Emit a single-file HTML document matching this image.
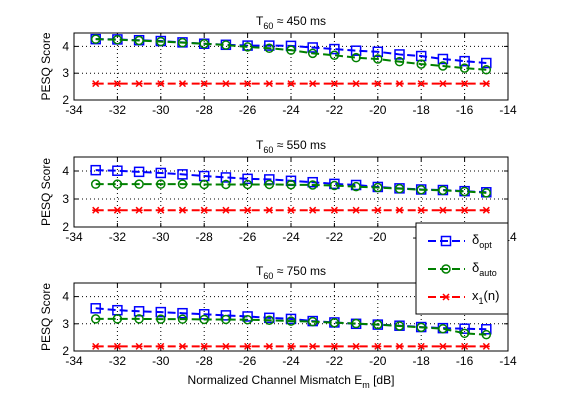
<!DOCTYPE html>
<html><head><meta charset="utf-8"><style>
body{margin:0;background:#fff}
svg{display:block;font-family:"Liberation Sans",sans-serif}
</style></head><body>
<svg id="c" width="561" height="420" viewBox="0 0 561 420"></svg>
<script>
const xs=[-33,-32,-31,-30,-29,-28,-27,-26,-25,-24,-23,-22,-21,-20,-19,-18,-17,-16,-15];
const xTicks=[-34,-32,-30,-28,-26,-24,-22,-20,-18,-16,-14];
const yTicks=[2,3,4];
const titles=["450","550","750"];
const opt450=[4.27,4.26,4.23,4.2,4.15,4.1,4.06,4.03,4.03,4.02,3.96,3.9,3.84,3.8,3.7,3.64,3.53,3.45,3.38];
const auto450=[4.27,4.25,4.22,4.18,4.14,4.1,4.05,3.98,3.93,3.86,3.74,3.67,3.58,3.53,3.43,3.34,3.27,3.19,3.13];
const x1_450=[2.61,2.61,2.61,2.61,2.61,2.61,2.61,2.61,2.61,2.61,2.61,2.61,2.61,2.61,2.61,2.61,2.61,2.61,2.61];
const opt550=[4.03,4.01,3.97,3.93,3.88,3.82,3.77,3.72,3.7,3.65,3.6,3.54,3.5,3.43,3.38,3.34,3.32,3.28,3.24];
const auto550=[3.53,3.53,3.53,3.53,3.53,3.52,3.52,3.52,3.52,3.51,3.5,3.48,3.44,3.41,3.37,3.33,3.31,3.27,3.22];
const x1_550=[2.6,2.6,2.6,2.6,2.6,2.6,2.6,2.6,2.6,2.6,2.6,2.6,2.6,2.6,2.6,2.6,2.6,2.6,2.6];
const opt750=[3.57,3.5,3.46,3.43,3.39,3.35,3.31,3.27,3.22,3.18,3.1,3.05,3.0,2.97,2.93,2.88,2.84,2.82,2.8];
const auto750=[3.18,3.18,3.18,3.17,3.17,3.16,3.16,3.15,3.13,3.1,3.08,3.04,3.01,2.97,2.92,2.87,2.82,2.65,2.6];
const x1_750=[2.17,2.17,2.17,2.17,2.17,2.17,2.17,2.17,2.17,2.17,2.17,2.17,2.17,2.17,2.17,2.17,2.17,2.17,2.17];

const NS="http://www.w3.org/2000/svg";
const svg=document.getElementById('c');
function el(t,a,p){const e=document.createElementNS(NS,t);for(const k in a)e.setAttribute(k,a[k]);(p||svg).appendChild(e);return e;}
const L=74,R=508;
const panels=[{top:33,bot:100,d:[opt450,auto450,x1_450]},{top:157,bot:227,d:[opt550,auto550,x1_550]},{top:283,bot:351,d:[opt750,auto750,x1_750]}];
const cols=['#0000ff','#008000','#ff0000'];
const sNames=['delta-opt','delta-auto','x1n'];
function xPos(v){return L+(v+34)/20*(R-L);}
panels.forEach((p,pi)=>{
  const g=el('g',{});
  
  
  const yPos=v=>p.bot-(v-2)/2.5*(p.bot-p.top);
  const ax=el('rect',{x:L,y:p.top,width:R-L,height:p.bot-p.top,fill:'#fff',stroke:'#000','stroke-width':1},g);
  
  
  xTicks.forEach(t=>{
    const x=xPos(t);
    if(t>-34&&t<-14) el('line',{x1:x,x2:x,y1:p.top,y2:p.bot,stroke:'#000','stroke-dasharray':'1,3','stroke-width':1},g);
    el('line',{x1:x,x2:x,y1:p.bot,y2:p.bot-4,stroke:'#000'},g);
    el('line',{x1:x,x2:x,y1:p.top,y2:p.top+4,stroke:'#000'},g);
    const tx=el('text',{x:x,y:p.bot+14,'font-size':12,'text-anchor':'middle'},g);tx.textContent=t;
    
    
  });
  yTicks.forEach(t=>{
    const y=yPos(t);
    if(t>2) el('line',{x1:L,x2:R,y1:y,y2:y,stroke:'#000','stroke-dasharray':'1,3'},g);
    el('line',{x1:L,x2:L+4,y1:y,y2:y,stroke:'#000'},g);
    el('line',{x1:R,x2:R-4,y1:y,y2:y,stroke:'#000'},g);
    const tx=el('text',{x:L-5,y:y+4,'font-size':12,'text-anchor':'end'},g);tx.textContent=t;
    
    
  });
  const yl=el('text',{transform:`translate(50,${(p.top+p.bot)/2}) rotate(-90)`,'font-size':12,'text-anchor':'middle'},g);
  yl.textContent='PESQ Score';
  
  
  const ti=el('text',{x:(L+R)/2,y:p.top-8,'font-size':12,'text-anchor':'middle'},g);
  ti.innerHTML=`T<tspan font-size="9" dy="4">60</tspan><tspan dy="-4"> ≈ ${titles[pi]} ms</tspan>`;
  
  
  p.d.forEach((arr,si)=>{
    const c=cols[si];
    const pts=arr.map((v,i)=>xPos(xs[i])+','+yPos(v)).join(' ');
    const ln=el('polyline',{points:pts,fill:'none',stroke:c,'stroke-width':2,'stroke-dasharray':'8,4'},g);
    
    
    arr.forEach((v,i)=>{
      const x=xPos(xs[i]),y=yPos(v);let m;
      if(si===0) m=el('rect',{x:x-4.5,y:y-4.5,width:9,height:9,fill:'none',stroke:c,'stroke-width':1.5},g);
      else if(si===1) m=el('circle',{cx:x,cy:y,r:4,fill:'none',stroke:c,'stroke-width':1.5},g);
      else m=el('path',{d:`M${x-3},${y-3}L${x+3},${y+3}M${x-3},${y+3}L${x+3},${y-3}M${x-3.5},${y}L${x+3.5},${y}`,stroke:c,'stroke-width':1.5},g);
      
      
    });
  });
});
const xl=el('text',{x:(L+R)/2,y:384,'font-size':12,'text-anchor':'middle'});
xl.innerHTML='Normalized Channel Mismatch E<tspan font-size="9" dy="4">m</tspan><tspan dy="-4"> [dB]</tspan>';


// legend
const lg=el('g',{});


el('rect',{x:416,y:223,width:92,height:91,fill:'#fff',stroke:'#000'},lg);
const labs=['δ<tspan font-size="9" dy="4">opt</tspan>','δ<tspan font-size="9" dy="4">auto</tspan>','x<tspan font-size="9" dy="4">1</tspan><tspan dy="-4">(n)</tspan>'];
[241,269,297].forEach((y,i)=>{
  const c=cols[i];
  const e=el('g',{},lg);
  
  
  el('line',{x1:428,x2:465,y1:y,y2:y,stroke:c,'stroke-width':2,'stroke-dasharray':'8,4'},e);
  const x=446;
  if(i===0) el('rect',{x:x-4.5,y:y-4.5,width:9,height:9,fill:'none',stroke:c,'stroke-width':1.5},e);
  else if(i===1) el('circle',{cx:x,cy:y,r:4,fill:'none',stroke:c,'stroke-width':1.5},e);
  else el('path',{d:`M${x-3},${y-3}L${x+3},${y+3}M${x-3},${y+3}L${x+3},${y-3}M${x-3.5},${y}L${x+3.5},${y}`,stroke:c,'stroke-width':1.5},e);
  const t=el('text',{x:472,y:y+3,'font-size':13},e);t.innerHTML=labs[i];
});
</script>
</body></html>
